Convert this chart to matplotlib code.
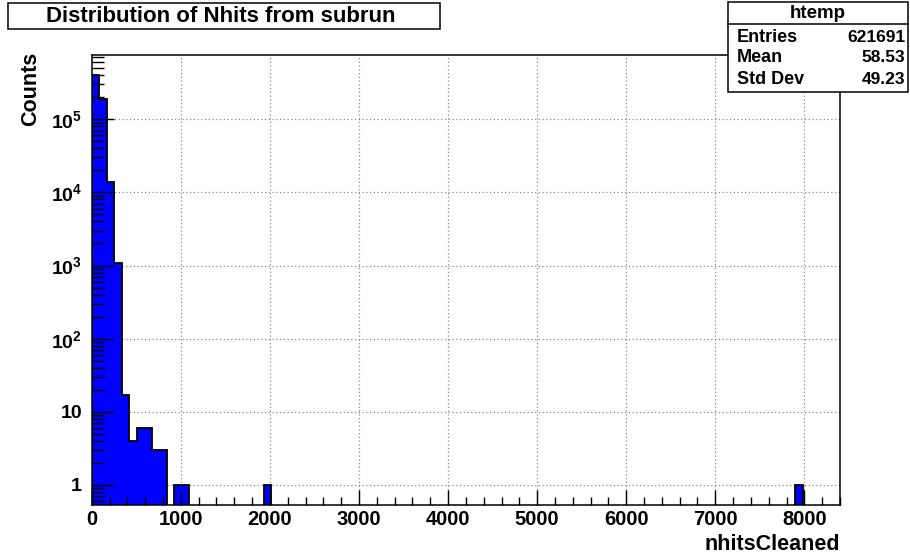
import matplotlib
matplotlib.use("Agg")
import matplotlib.pyplot as plt
import numpy as np
from matplotlib.patches import Rectangle

plt.rcParams["font.family"] = ["Liberation Sans", "DejaVu Sans"]
plt.rcParams["font.weight"] = "bold"
plt.rcParams["mathtext.fontset"] = "custom"
plt.rcParams["mathtext.rm"] = "Liberation Sans:bold"
plt.rcParams["mathtext.bf"] = "Liberation Sans:bold"
plt.rcParams["mathtext.it"] = "Liberation Sans:bold"

# histogram: 100 bins over [0, 8400]
n_bins = 100
x_min, x_max = 0, 8400
filled_bins = [0, 1, 2, 3, 4, 5, 6, 7, 8, 9, 11, 12, 23, 94]
filled_counts = [405000, 191000, 13900, 1090, 17, 4, 6, 6, 3, 3, 1, 1, 1, 1]

stats_names = ["Entries", "Mean", "Std Dev"]
stats_values = ["621691", "58.53", "49.23"]

x_major = [0, 1000, 2000, 3000, 4000, 5000, 6000, 7000, 8000]
x_labels = ["0", "1000", "2000", "3000", "4000", "5000", "6000", "7000", "8000"]
y_major = [1, 10, 100, 1000, 10000, 100000]
y_labels = ["1", "10", "$10^{2}$", "$10^{3}$", "$10^{4}$", "$10^{5}$"]

FLOOR = 1e-3
edges = np.linspace(x_min, x_max, n_bins + 1)
counts = np.full(n_bins, FLOOR)
counts[filled_bins] = filled_counts

fig = plt.figure(figsize=(9.10, 5.57), dpi=100)
ax = fig.add_axes([0.1008, 0.0934, 0.8223, 0.8079])
ax.set_yscale("log")
ax.set_xlim(x_min, x_max)
ax.set_ylim(0.533, 7.55e5)

# dotted grid under the histogram
grid_kw = dict(color="#8a8a8a", linewidth=0.9, linestyle=(0, (1, 2)), zorder=0.5)
for xv in x_major[1:]:
    ax.axvline(xv, **grid_kw)
for yv in y_major:
    ax.axhline(yv, **grid_kw)

ax.stairs(counts, edges, baseline=FLOOR, fill=True, color="#0000ff", zorder=1)
ax.stairs(counts, edges, baseline=FLOOR, color="black", linewidth=1.3, zorder=1.2)

ax.set_axisbelow(False)
ax.set_xticks(x_major, x_labels)
ax.set_xticks(np.arange(0, x_max + 1, 200), minor=True)
ax.set_yticks(y_major, y_labels)
ax.yaxis.set_minor_locator(matplotlib.ticker.LogLocator(base=10, subs=np.arange(2, 10), numticks=20))
ax.yaxis.set_minor_formatter(matplotlib.ticker.NullFormatter())
ax.tick_params(axis="x", which="major", direction="in", length=11, width=1.0,
               labelsize=14.5, pad=3.5)
ax.tick_params(axis="x", which="minor", direction="in", length=5.8, width=1.0)
ax.tick_params(axis="y", which="major", direction="in", length=15.5, width=1.0,
               labelsize=14, pad=7)
ax.tick_params(axis="y", which="minor", direction="in", length=8.4, width=1.0)
for lab in ax.get_xticklabels() + ax.get_yticklabels():
    lab.set_fontweight("bold")
for sp in ax.spines.values():
    sp.set_linewidth(1.1)

fig.text(0.923, 1 - 545 / 557, "nhitsCleaned", ha="right", va="center",
         fontsize=15.5, fontweight="bold")
fig.text(31 / 910, 1 - 89 / 557, "Counts", ha="center", va="center", rotation=90,
         fontsize=15.5, fontweight="bold")

W, H = 910, 557


def px_rect(x0, y0, x1, y1, **kw):
    return Rectangle((x0 / W, 1 - y1 / H), (x1 - x0) / W, (y1 - y0) / H,
                     transform=fig.transFigure, **kw)


# title box
fig.patches.append(px_rect(8, 3, 440, 29, facecolor="white", edgecolor="black",
                           linewidth=1.1, zorder=5))
fig.text(221 / W, 1 - 16 / H, "Distribution of Nhits from subrun", ha="center",
         va="center", fontsize=16, fontweight="bold", zorder=6)

# statistics box
fig.patches.append(px_rect(728, 2, 908, 92, facecolor="white", edgecolor="black",
                           linewidth=1.1, zorder=5))
fig.lines.append(plt.Line2D([728 / W, 908 / W], [1 - 24 / H, 1 - 24 / H],
                            transform=fig.transFigure, color="black",
                            linewidth=1.1, zorder=6))
fig.text(818 / W, 1 - 13 / H, "htemp", ha="center", va="center",
         fontsize=13.5, fontweight="bold", zorder=6)
for i, (name, val) in enumerate(zip(stats_names, stats_values)):
    yy = 1 - (37 + 21 * i) / H
    fig.text(737 / W, yy, name, ha="left", va="center", fontsize=13,
             fontweight="bold", zorder=6)
    fig.text(905 / W, yy, val, ha="right", va="center", fontsize=12.5,
             fontweight="bold", zorder=6)

fig.savefig("out.png", dpi=100, facecolor="white")
